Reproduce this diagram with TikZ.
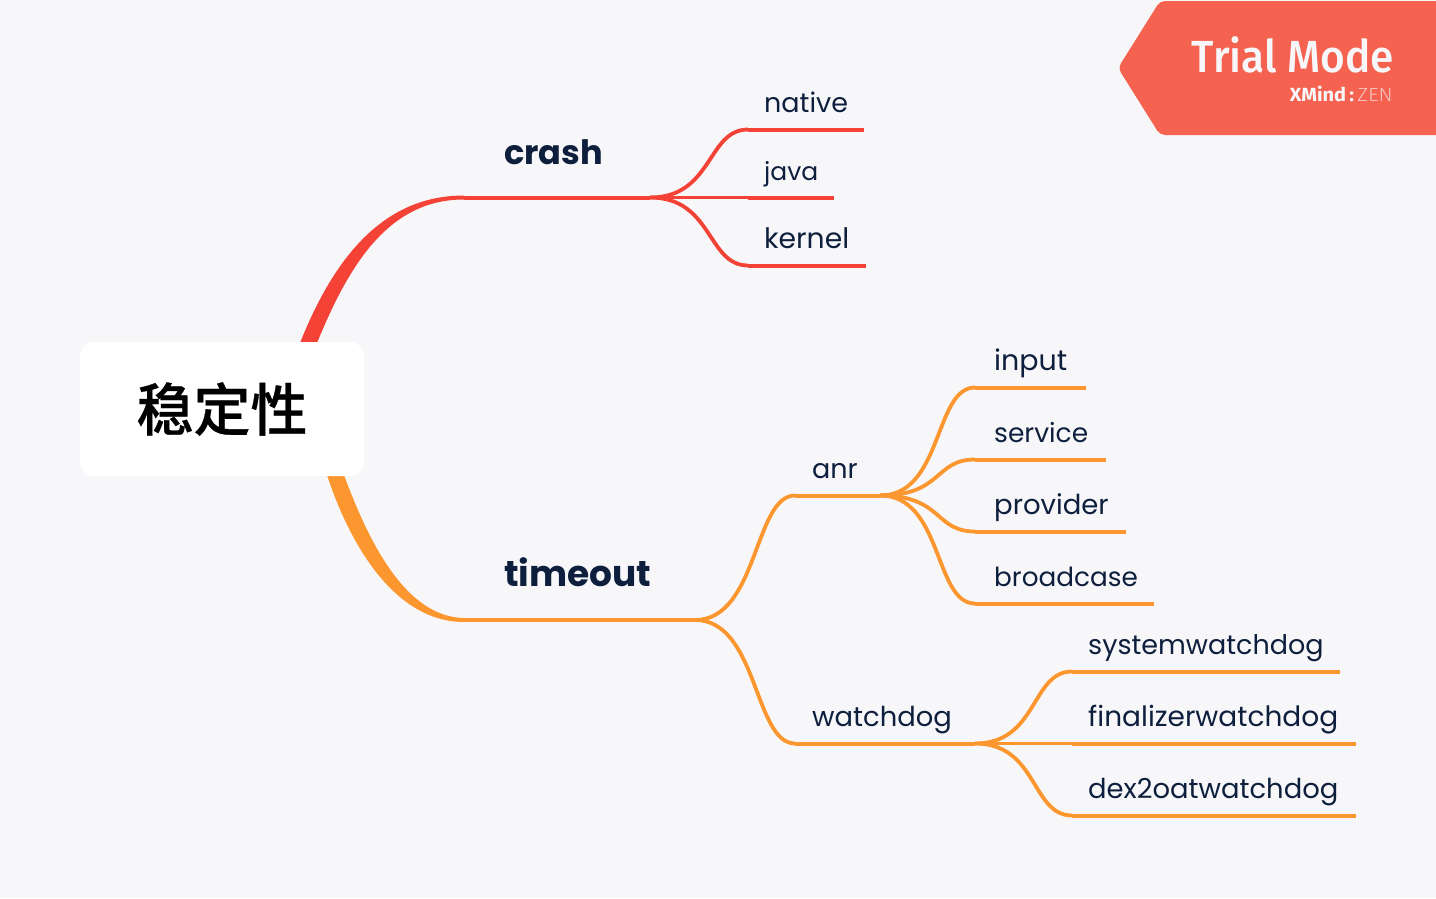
\documentclass[tikz,border=0pt]{standalone}
\usepackage{fontspec}
\setmainfont{Poppins}
\newfontfamily\cjkfont{Noto Sans CJK SC Medium}[FakeBold=0.6]
\newfontfamily\badgefont{Fira Sans Medium}[FakeStretch=0.94]
\newfontfamily\badgebold{Fira Sans}[FakeStretch=1.05]
\newfontfamily\badgelight{Fira Sans Light}[FakeStretch=1.1]
\definecolor{bgc}{HTML}{F7F7FA}
\definecolor{redc}{HTML}{F44336}
\definecolor{orangec}{HTML}{FC962E}
\definecolor{inkc}{HTML}{0E1F3D}
\definecolor{badgec}{HTML}{F56350}
\newcommand{\fs}[1]{\fontsize{#1}{#1}\selectfont}
\tikzset{
  x=1pt,y=-1pt,
  leaftext/.style={anchor=base west,inner sep=0pt,text=inkc,font=\fs{#1}},
  maintext/.style={anchor=base west,inner sep=0pt,text=inkc,font=\fs{#1}\bfseries},
  redline/.style={draw=redc,line width=4pt},
  orangeline/.style={draw=orangec,line width=4pt},
  redcurve/.style={draw=redc,line width=3.8pt},
  orangecurve/.style={draw=orangec,line width=3.8pt},
}
\newcommand{\fork}[3]{\draw[#1] (#2) .. controls ($(#2)+(63,0)$) and ($(#3)+(-41,0)$) .. (#3);}
\usetikzlibrary{calc}
\begin{document}
\begin{tikzpicture}
\useasboundingbox (0,0) rectangle (1436,898);
\fill[bgc] (0,0) rectangle (1436,898);
% badge
\fill[badgec,rounded corners=5pt] (1160,1) -- (1118,68) -- (1160,135) -- (1442,135) -- (1442,1) -- cycle;
\node[anchor=base east,inner sep=0pt,text=bgc,font=\badgefont\fs{45}] (trial) at (1394,72) {Trial Mode};
\node[anchor=base east,inner sep=0pt,text=bgc,font=\fs{19}] (xmind) at (1393,101) {{\badgebold\bfseries XMind\,:}\,\textcolor{bgc!65!badgec}{\badgelight ZEN}};
% coordinates
\foreach \n/\xa/\xb/\y in {crash/464/650/197.5,timeout/464/695/620,anr/795/880/495.5,watchdog/795/975/743.5,
  native/748/864/129.5,java/748/834/197.5,kernel/748/866/265.5,
  input/975/1086/387.5,service/975/1106/459.5,provider/975/1126/531.5,broadcase/975/1154/603.5,
  systemw/1072/1340/671.5,finalizerw/1072/1356/743.5,dexw/1072/1356/815.5}{
  \coordinate (\n L) at (\xa,\y);
  \coordinate (\n R) at (\xb,\y);
}
% main tapered branches
\fill[redc] (300,343) .. controls (335,255) and (385,195.5) .. (464,195.5) -- (464,199.5) .. controls (390,199.5) and (350,262) .. (317,343) -- cycle;
\fill[orangec] (327,475) .. controls (350,545) and (395,622) .. (464,622) -- (464,618) .. controls (405,617) and (368,540) .. (344,475) -- cycle;
% root
\node[fill=white,rounded corners=14pt,minimum width=284pt,minimum height=134pt,inner sep=0pt,
  font=\cjkfont\fs{57},text=black] (root) at (222,409) {稳定性};
% forks
\foreach \n in {native,java,kernel}{\fork{redcurve}{crashR}{\n L}}
\foreach \n in {anr,watchdog}{\fork{orangecurve}{timeoutR}{\n L}}
\foreach \n in {input,service,provider,broadcase}{\fork{orangecurve}{anrR}{\n L}}
\foreach \n in {systemw,finalizerw,dexw}{\fork{orangecurve}{watchdogR}{\n L}}
% underlines
\foreach \n in {crash,native,java,kernel}{\draw[redline] (\n L) -- (\n R);}
\foreach \n in {timeout,anr,watchdog,input,service,provider,broadcase,systemw,finalizerw,dexw}{\draw[orangeline] (\n L) -- (\n R);}
% labels
\node[maintext=33.6] (tcrash) at (504,164) {crash};
\node[maintext=36] (ttimeout) at (504,586) {timeout};
\node[leaftext=27] (tnative) at (764,112) {native};
\node[leaftext=25] (tjava) at (764,180) {java};
\node[leaftext=28.2] (tkernel) at (764,248) {kernel};
\node[leaftext=27] (tanr) at (812,478) {anr};
\node[leaftext=27.4] (twatchdog) at (812,726) {watchdog};
\node[leaftext=28.5] (tinput) at (994,370) {input};
\node[leaftext=26.5] (tservice) at (994,442) {service};
\node[leaftext=27.5] (tprovider) at (994,514) {provider};
\node[leaftext=26.3] (tbroadcase) at (994,586) {broadcase};
\node[leaftext=27] (tsys) at (1088,654) {systemwatchdog};
\node[leaftext=28] (tfin) at (1088,726) {finalizerwatchdog};
\node[leaftext=27.4] (tdex) at (1088,798) {dex2oatwatchdog};
\end{tikzpicture}
\end{document}
